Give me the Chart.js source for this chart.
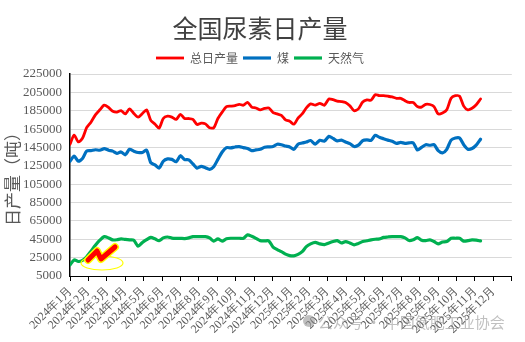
<!DOCTYPE html>
<html>
<head>
<meta charset="utf-8">
<script src="https://cdn.jsdelivr.net/npm/chart.js@4.4.1/dist/chart.umd.min.js"></script>
<style>
  html, body { margin: 0; padding: 0; background: #fff; }
  #wrap { width: 525px; height: 342px; position: relative; }
</style>
</head>
<body>
<div id="wrap"><canvas id="chart"></canvas></div>
<script>
// 月份刻度标签
const monthLabels = [
  "2024年1月", "2024年2月", "2024年3月", "2024年4月", "2024年5月", "2024年6月",
  "2024年7月", "2024年8月", "2024年9月", "2024年10月", "2024年11月", "2024年12月",
  "2025年1月", "2025年2月", "2025年3月", "2025年4月", "2025年5月", "2025年6月",
  "2025年7月", "2025年8月", "2025年9月", "2025年10月", "2025年11月", "2025年12月"
];
const yTicks = [5000, 25000, 45000, 65000, 85000, 105000, 125000, 145000, 165000, 185000, 205000, 225000];

// 周度数据，从2024年1月1日起每周一个点
const startDate = "2024-01-01";

// 总日产量（吨）
const totalOutput = [
  148500, 158500, 151000, 155000, 166500, 172500, 180500, 186000, 191000, 188500,
  184500, 183500, 185200, 181500, 187000, 182000, 178000, 182000, 186000, 174500,
  170500, 166000, 176500, 179000, 178000, 175500, 181000, 176500, 176500, 175500,
  170000, 171500, 170700, 166500, 166500, 176500, 183500, 189500, 190000, 190600,
  192000, 191000, 194200, 189000, 188000, 186000, 187500, 188000, 183000, 181500,
  180000, 175000, 173500, 170300, 177000, 181500, 188000, 192500, 191000, 193000,
  191000, 197800, 197000, 195500, 195000, 194000, 190500, 185000, 187000, 194500,
  196700, 196500, 202500, 201400, 201400, 200800, 200000, 198500, 198500, 196000,
  194000, 194000, 189500, 189000, 192000, 191800, 189500, 181500, 182500, 186000,
  198500, 201400, 200800, 190000, 186000, 187700, 191500, 197800
];

// 煤头
const coalOutput = [
  130000, 135500, 130000, 132900, 141000, 141500, 142500, 142000, 143700, 142000,
  141000, 138500, 140100, 137000, 143000, 141000, 139500, 139500, 142000, 128500,
  126000, 122500, 130000, 132500, 132000, 129500, 136000, 131800, 131500, 127000,
  122500, 124500, 122900, 121200, 124000, 132000, 140000, 144800, 144500, 145500,
  146000, 144800, 143800, 141500, 142300, 143000, 145300, 145600, 146000, 148500,
  148000, 146500, 145600, 143000, 148500, 149800, 151000, 152500, 148700, 152800,
  152000, 157100, 154800, 152100, 153000, 151000, 149100, 146000, 147500, 152500,
  153200, 152800, 158200, 156000, 154500, 153000, 151700, 149500, 150500, 149500,
  150000, 150000, 142200, 145000, 148000, 147400, 148000, 141500, 139100, 143000,
  153000, 155300, 155300, 148000, 143000, 143800, 147500, 154000
];

// 天然气头
const gasOutput = [
  17100, 22500, 20800, 22000, 26000, 32000, 38500, 44000, 47900, 46500,
  44300, 44500, 45400, 44800, 44300, 44000, 37500, 41500, 44500, 47000,
  45500, 43500, 46500, 47500, 46300, 46000, 46000, 45800, 46500, 47900,
  47900, 47900, 47900, 46500, 43000, 45400, 43000, 45500, 46100, 46100,
  46100, 46000, 49800, 48200, 46000, 43500, 43200, 43200, 36500, 33800,
  31500, 28800, 27200, 27000, 28500, 31500, 37000, 40000, 41700, 40000,
  39200, 41000, 42500, 43600, 41000, 42500, 41000, 39000, 40500, 42500,
  43400, 44300, 45000, 45500, 47000, 47500, 47900, 47900, 47900, 46500,
  43600, 44500, 46800, 44000, 43500, 44300, 42500, 40000, 42000, 42500,
  46000, 46100, 46100, 43000, 43500, 44300, 44000, 43200
];

// 把第i周的日期换算成以月为单位的横坐标
function weekToMonth(i) {
  const d = new Date(startDate + "T00:00:00");
  d.setDate(d.getDate() + 7 * i);
  const dim = new Date(d.getFullYear(), d.getMonth() + 1, 0).getDate();
  return (d.getFullYear() - 2024) * 12 + d.getMonth() + (d.getDate() - 1) / dim;
}

function toPoints(arr) {
  return arr.map((v, i) => ({ x: weekToMonth(i), y: v }));
}

const serif = "'Liberation Serif', 'Times New Roman', serif";

// 右下角水印和左下角的图标
const decoPlugin = {
  id: "deco",
  afterDraw(chart) {
    const ctx = chart.ctx;
    ctx.save();
    // 图标
    ctx.strokeStyle = "#ffff00";
    ctx.lineWidth = 1.2;
    ctx.beginPath();
    ctx.ellipse(102, 263, 21, 7, 0, 0, Math.PI * 2);
    ctx.stroke();
    ctx.lineJoin = "round";
    ctx.lineCap = "round";
    const zig = [[88, 260], [97, 251], [101, 259], [115, 247]];
    [["#ffff00", 8], ["#ff0000", 5]].forEach(([c, w]) => {
      ctx.strokeStyle = c;
      ctx.lineWidth = w;
      ctx.beginPath();
      zig.forEach(([x, y], k) => (k ? ctx.lineTo(x, y) : ctx.moveTo(x, y)));
      ctx.stroke();
    });
    // 水印
    ctx.globalAlpha = 0.55;
    ctx.fillStyle = "#8c8c8c";
    ctx.beginPath();
    ctx.arc(309, 321, 6, 0, Math.PI * 2);
    ctx.fill();
    ctx.font = "15px 'Noto Sans CJK SC'";
    ctx.textBaseline = "middle";
    ctx.fillText("公众号 · 中国氮肥工业协会", 318, 322);
    ctx.restore();
  }
};

const ctx = document.getElementById("chart").getContext("2d");
new Chart(ctx, {
  type: "line",
  data: {
    datasets: [
      { label: "总日产量", data: toPoints(totalOutput), borderColor: "#ff0000", backgroundColor: "#ff0000", borderWidth: 2.8 },
      { label: "煤", data: toPoints(coalOutput), borderColor: "#0070c0", backgroundColor: "#0070c0", borderWidth: 3.2 },
      { label: "天然气", data: toPoints(gasOutput), borderColor: "#00b050", backgroundColor: "#00b050", borderWidth: 3.2 }
    ]
  },
  options: {
    responsive: true,
    maintainAspectRatio: false,
    animation: false,
    layout: { padding: { left: 0, right: 5, top: 0, bottom: 0 } },
    elements: {
      point: { radius: 0, hoverRadius: 0, pointStyle: "line" },
      line: { tension: 0.25, borderCapStyle: "round", borderJoinStyle: "round" }
    },
    plugins: {
      title: {
        display: true,
        text: "全国尿素日产量",
        color: "#404040",
        font: { family: "'Noto Sans CJK SC'", size: 25, weight: "normal" },
        padding: { top: 13, bottom: 4 }
      },
      legend: {
        display: true,
        labels: {
          usePointStyle: true,
          pointStyleWidth: 28,
          boxHeight: 12,
          padding: 5,
          color: "#595959",
          font: { family: "'Noto Sans CJK SC'", size: 12 }
        }
      },
      tooltip: { enabled: false }
    },
    scales: {
      x: {
        type: "linear",
        min: 0,
        max: 24,
        afterBuildTicks: (s) => { s.ticks = monthLabels.concat([""]).map((_, i) => ({ value: i })); },
        afterFit: (s) => { s.height = 66; },
        ticks: {
          autoSkip: false,
          maxRotation: 45,
          minRotation: 45,
          padding: 3,
          color: "#595959",
          font: { family: serif, size: 12 },
          callback: (v) => monthLabels[v] || ""
        },
        grid: { drawOnChartArea: false, drawTicks: true, tickLength: 5, color: "#000" },
        border: { color: "#000", width: 1 }
      },
      y: {
        min: 5000,
        max: 225000,
        afterBuildTicks: (s) => { s.ticks = yTicks.map((v) => ({ value: v })); },
        afterFit: (s) => { s.width = 70; },
        ticks: {
          autoSkip: false,
          padding: 8,
          color: "#595959",
          font: { family: serif, size: 13 },
          callback: (v) => String(v)
        },
        grid: { color: "#d9d9d9", drawTicks: false },
        border: { color: "#000", width: 1.5 },
        title: {
          display: true,
          text: "日产量（吨）",
          color: "#595959",
          font: { family: "'Noto Sans CJK SC'", size: 17 },
          padding: { top: 2, bottom: 0 }
        }
      }
    }
  },
  plugins: [decoPlugin]
});
</script>
</body>
</html>
